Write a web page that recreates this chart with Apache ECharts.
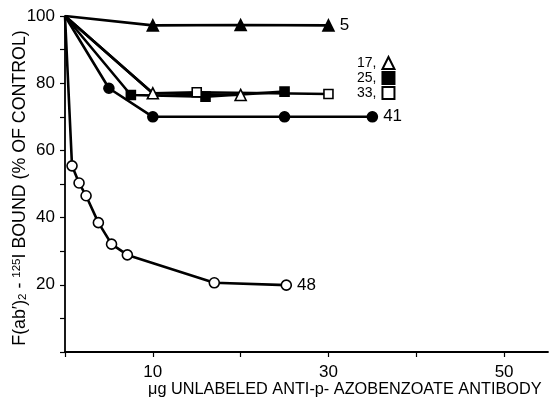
<!DOCTYPE html>
<html><head><meta charset="utf-8">
<script src="https://cdn.jsdelivr.net/npm/echarts@6/dist/echarts.min.js"></script>
<style>html,body{margin:0;padding:0;background:#fff}#c{width:555px;height:407px}</style>
</head><body><div id="c"></div>
<script>
const xTickLabels = [10, 30, 50];
const yTickLabels = [20, 40, 60, 80, 100];
const s5  = [[0,100],[10,97.2],[20,97.3],[30,97.2]];
const s17 = [[0,100],[10,77],[20,76.5]];
const s25 = [[0,100],[7.5,76.5],[16,76],[25,77.5]];
const s33 = [[0,100],[10,77],[15,77.3],[30,76.8]];
const s41 = [[0,100],[5,78.5],[10,70],[25,70],[35,70]];
const s48 = [[0,100],[0.8,55.4],[1.6,50.3],[2.4,46.5],[3.8,38.5],[5.3,32.1],[7.1,28.9],[17,20.6],[25.2,19.9]];

const F = '"Liberation Sans", Arial, sans-serif';
function mk(arr, hideIdx, endLabel){
  return arr.map((p,i)=>{
    const o = {value:p};
    if (hideIdx.includes(i)) o.symbol = 'none';
    if (endLabel && i === arr.length-1) o.label = {show:true, position:'right', distance:5, formatter:endLabel, color:'#000', fontSize:17, fontFamily:F};
    return o;
  });
}
const lineStyle = {color:'#000', width:2.6};
function ser(name, data, symbol, filled, size){
  return {name, type:'line', data, symbol, symbolSize:size, showSymbol:true,
    lineStyle, itemStyle:{color: filled ? '#000' : '#fff', borderColor:'#000', borderWidth:1.6},
    emphasis:{disabled:true}, z: filled?3:4, animation:false};
}
const chart = echarts.init(document.getElementById('c'), null, {renderer:'canvas'});
chart.setOption({
  backgroundColor:'#fff',
  animation:false,
  grid:{left:65, right:7, top:16, bottom:55, outerBoundsMode:'none', containLabel:false},
  xAxis:{type:'value', min:0, max:55, interval:10,
    axisLine:{lineStyle:{color:'#000', width:1.8}},
    axisTick:{show:true, length:5, lineStyle:{color:'#000', width:1.2}},
    splitLine:{show:false},
    axisLabel:{color:'#000', fontSize:17, fontFamily:F, margin:12, showMaxLabel:false,
      formatter:v=> xTickLabels.includes(v) ? String(v) : ''}
  },
  yAxis:{type:'value', min:0, max:100, interval:10,
    axisLine:{show:true, lineStyle:{color:'#000', width:1.8}},
    axisTick:{show:true, length:5, lineStyle:{color:'#000', width:1.2}},
    splitLine:{show:false},
    axisLabel:{color:'#000', fontSize:17, fontFamily:F, margin:10,
      formatter:v=> yTickLabels.includes(v) ? String(v) : ''},
    name:'{t|F(ab′)}{sub|2}{t| - }{sup|125}{t|I BOUND (% OF CONTROL)}', nameLocation:'middle', nameGap:36,
    nameMoveOverlap:false,
    nameTextStyle:{color:'#000', fontSize:17.8, fontFamily:F, padding:[0,8,0,0],
      rich:{t:{fontSize:17.8, fontFamily:F, color:'#000'},
            sub:{fontSize:11.5, fontFamily:F, color:'#000', verticalAlign:'bottom'},
            sup:{fontSize:11.5, fontFamily:F, color:'#000', verticalAlign:'top'}}}
  },
  legend:{show:true, orient:'vertical', left:352, top:51, align:'right', itemGap:1,
    itemWidth:12, itemHeight:12, selectedMode:false,
    textStyle:{color:'#000', fontSize:14, fontFamily:F, padding:[0,1,0,0]},
    formatter: n => n + ',',
    data:[{name:'17', icon:'triangle'},{name:'25', icon:'rect'},{name:'33', icon:'rect'}]
  },
  graphic:[{type:'text', left:148, top:382, style:{text:'μg UNLABELED ANTI-p- AZOBENZOATE ANTIBODY', fill:'#000', font:'16.3px '+F}}],
  series:[
    ser('5', mk(s5,[0],'5'), 'triangle', true, 11),
    ser('17', mk(s17,[0]), 'triangle', false, 11),
    ser('25', mk(s25,[0]), 'rect', true, 9),
    ser('33', mk(s33,[0,1]), 'rect', false, 9),
    ser('41', mk(s41,[0],'41'), 'circle', true, 10),
    ser('48', mk(s48,[0],'48'), 'circle', false, 10)
  ]
});
</script></body></html>
